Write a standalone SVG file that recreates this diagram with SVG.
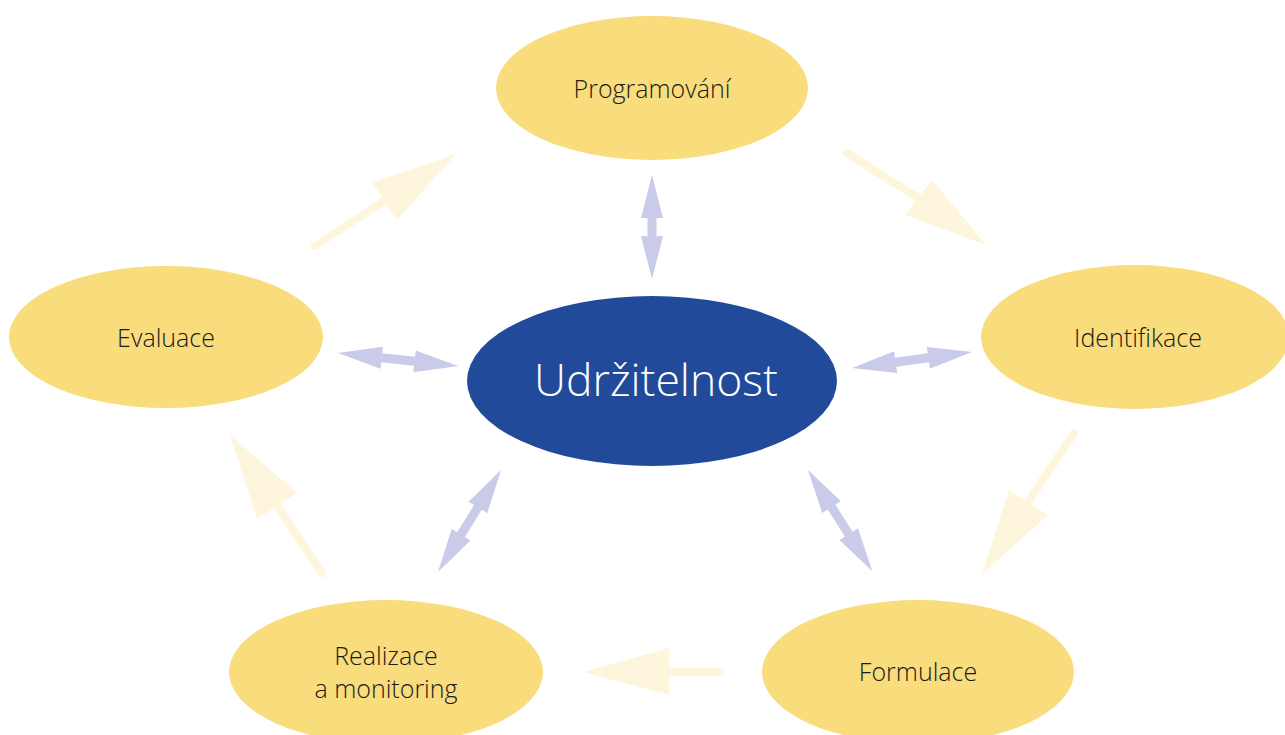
<svg xmlns="http://www.w3.org/2000/svg" width="1285" height="735" viewBox="0 0 1285 735">
<style>
.node{fill:#f9dc7c}
.center{fill:#224a9a}
.lbl{font-family:"Open Sans","Noto Sans",sans-serif;font-weight:300;font-size:25px;fill:#1a1a1a;text-anchor:middle;dominant-baseline:central}
.big{font-family:"Open Sans","Noto Sans",sans-serif;font-weight:300;font-size:44.5px;fill:#ffffff;text-anchor:middle;dominant-baseline:central}
.dbl{fill:#c9cbe8}
.shaft{stroke:#fdf5dc;stroke-width:8;stroke-linecap:round;fill:none}
.head{fill:#fdf5dc}
</style>
<rect width="1285" height="735" fill="#ffffff"/>
<g id="connectors">
  <g id="cycle">
    <line class="shaft" x1="315" y1="246" x2="384" y2="201"/>
    <polygon class="head" points="456,154 372,182 397,220"/>
    <line class="shaft" x1="847" y1="153" x2="918" y2="198"/>
    <polygon class="head" points="986,245 932,180 905,215"/>
    <line class="shaft" x1="1074" y1="433" x2="1028" y2="502"/>
    <polygon class="head" points="982,574 1009,490 1048,515"/>
    <line class="shaft" x1="720" y1="672" x2="669" y2="672"/>
    <polygon class="head" points="583,672 669,648 669,695"/>
    <line class="shaft" x1="322" y1="573" x2="277" y2="506"/>
    <polygon class="head" points="230,435 297,493 257,519"/>
  </g>
  <g id="links">
    <polygon class="dbl" transform="translate(652,175) rotate(90)" points="0,0 43,-11 43,-4.5 61,-4.5 61,-11 104,0 61,11 61,4.5 43,4.5 43,11"/>
    <polygon class="dbl" transform="translate(338,353) rotate(6.2)" points="0,0 44,-11 44,-4.5 77,-4.5 77,-11 121,0 77,11 77,4.5 44,4.5 44,11"/>
    <polygon class="dbl" transform="translate(972,352) rotate(172.4)" points="0,0 44,-11 44,-4.5 77,-4.5 77,-11 121,0 77,11 77,4.5 44,4.5 44,11"/>
    <polygon class="dbl" transform="translate(501,470) rotate(121.7)" points="0,0 44,-11 44,-4.5 76,-4.5 76,-11 120,0 76,11 76,4.5 44,4.5 44,11"/>
    <polygon class="dbl" transform="translate(808,470) rotate(57.6)" points="0,0 44,-11 44,-4.5 76,-4.5 76,-11 120,0 76,11 76,4.5 44,4.5 44,11"/>
  </g>
</g>
<g id="programovani">
  <ellipse class="node" cx="652" cy="88" rx="156" ry="72"/>
  <text class="lbl" x="652" y="88">Programování</text>
</g>
<g id="identifikace">
  <ellipse class="node" cx="1135" cy="337" rx="154" ry="72"/>
  <text class="lbl" x="1138" y="337">Identifikace</text>
</g>
<g id="evaluace">
  <ellipse class="node" cx="166" cy="337" rx="157" ry="71"/>
  <text class="lbl" x="166" y="337">Evaluace</text>
</g>
<g id="udrzitelnost">
  <ellipse class="center" cx="652" cy="381" rx="185" ry="85"/>
  <text class="big" x="656" y="378">Udržitelnost</text>
</g>
<g id="realizace">
  <ellipse class="node" cx="386" cy="672" rx="157" ry="72"/>
  <text class="lbl" x="386" y="655">Realizace</text>
  <text class="lbl" x="386" y="688">a monitoring</text>
</g>
<g id="formulace">
  <ellipse class="node" cx="918" cy="672" rx="156" ry="72"/>
  <text class="lbl" x="918" y="671">Formulace</text>
</g>
</svg>
